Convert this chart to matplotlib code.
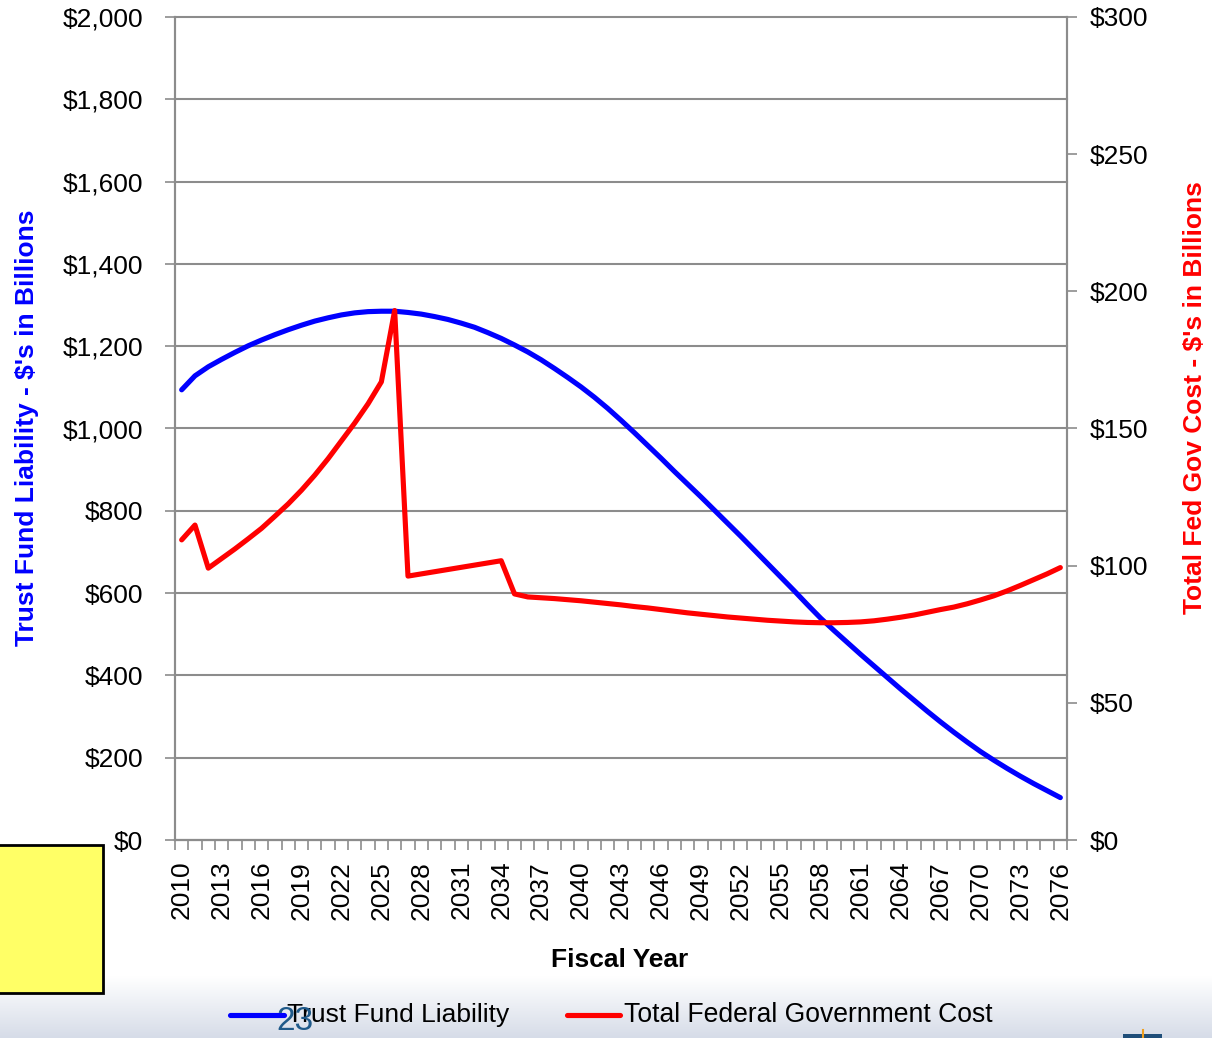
import numpy as np
import matplotlib
matplotlib.use("Agg")
import matplotlib.pyplot as plt
from matplotlib.lines import Line2D
from matplotlib.patches import Rectangle

plt.rcParams['font.family'] = ['Liberation Sans', 'DejaVu Sans']

years = list(range(2010, 2077))

# trust fund liability, $ billions (left axis)
liability = [1094, 1128, 1150, 1168, 1185, 1201, 1215, 1228, 1240, 1251,
             1261, 1269, 1276, 1281, 1284, 1285, 1285, 1282, 1278, 1272,
             1265, 1256, 1246, 1233, 1219, 1203, 1186, 1167, 1146, 1124,
             1101, 1076, 1049, 1020, 990, 959, 928, 896, 865, 834,
             802, 770, 738, 705, 672, 639, 606, 572, 539, 509,
             480, 451, 423, 395, 367, 340, 313, 287, 262, 238,
             215, 194, 174, 155, 137, 120, 103]

# total federal government cost, $ billions (right axis)
fed_cost = [109.4, 114.8, 99.1, 102.6, 106.1, 109.8, 113.6, 118.0, 122.5, 127.5,
            133.0, 139.0, 145.5, 152.0, 159.0, 167.0, 193.0, 96.2, 97.0, 97.8,
            98.6, 99.4, 100.2, 101.0, 101.8, 89.7, 88.6, 88.3, 88.0, 87.6,
            87.2, 86.7, 86.2, 85.7, 85.1, 84.6, 84.0, 83.4, 82.8, 82.3,
            81.8, 81.3, 80.9, 80.5, 80.1, 79.8, 79.5, 79.3, 79.2, 79.2,
            79.3, 79.5, 79.9, 80.5, 81.2, 82.0, 83.0, 84.0, 84.9, 86.1,
            87.5, 89.0, 90.8, 92.8, 94.9, 97.0, 99.3]

left_ticks = list(range(0, 2001, 200))
right_ticks = list(range(0, 301, 50))

W, H = 1212, 1038
fig = plt.figure(figsize=(W / 100, H / 100), dpi=100)
fig.patch.set_facecolor('white')

# bottom gradient band of the slide
band = fig.add_axes([0, 0, 1, 62 / H], zorder=0)
grad = np.linspace(0, 1, 100).reshape(-1, 1)
band.imshow(grad, aspect='auto', cmap=matplotlib.colors.LinearSegmentedColormap.from_list(
    'band', ['#d6dce8', '#ffffff']), origin='lower', extent=[0, 1, 0, 1])
band.axis('off')

grey = '#8c8c8c'
ax = fig.add_axes([175 / W, 1 - 840 / H, (1067 - 175) / W, (840 - 17) / H], zorder=2)
ax.patch.set_alpha(0)
x = np.arange(len(years))
ax.plot(x, liability, color='#0000ff', lw=3.7, solid_capstyle='round', zorder=3)
ax.set_xlim(-0.5, len(years) - 0.5)
ax.set_ylim(0, 2000)
ax.set_yticks(left_ticks)
ax.set_yticklabels(['${:,}'.format(v) for v in left_ticks])
for v in left_ticks:
    ax.axhline(v, color=grey, lw=1.5, zorder=1, clip_on=False)

ax.set_xticks(x[::3])
ax.set_xticklabels([str(y) for y in years[::3]], rotation=90)
ax.set_xticks(np.arange(-0.5, len(years)), minor=True)
ax.tick_params(axis='x', which='major', length=0, pad=15, labelsize=19)
ax.tick_params(axis='x', which='minor', length=7, width=1.2, color=grey, direction='out')
ax.tick_params(axis='y', length=7, width=1.2, color=grey, pad=16, labelsize=19)
ax.spines['top'].set_visible(False)
for s in ['left', 'bottom', 'right']:
    ax.spines[s].set_color(grey)
    ax.spines[s].set_linewidth(1.5)

ax2 = ax.twinx()
ax2.plot(x, fed_cost, color='#ff0000', lw=3.7, solid_capstyle='round', zorder=3)
ax2.set_ylim(0, 300)
ax2.set_yticks(right_ticks)
ax2.set_yticklabels(['${:,}'.format(v) for v in right_ticks])
ax2.tick_params(axis='y', length=7, width=1.2, color=grey, pad=9, labelsize=19)
ax2.spines['top'].set_visible(False)
for s in ['left', 'bottom', 'right']:
    ax2.spines[s].set_color(grey)
    ax2.spines[s].set_linewidth(1.5)

fig.text(620 / W, 1 - 960 / H, 'Fiscal Year', ha='center', va='center',
         fontsize=19, fontweight='bold')
fig.text(27 / W, 1 - 428 / H, "Trust Fund Liability - $'s in Billions", rotation=90,
         ha='center', va='center', fontsize=19, fontweight='bold', color='#0000ff')
fig.text(1195 / W, 1 - 398 / H, "Total Fed Gov Cost - $'s in Billions", rotation=90,
         ha='center', va='center', fontsize=19, fontweight='bold', color='#ff0000')

# legend
ly = 1 - 1015 / H
fig.add_artist(Line2D([230 / W, 284 / W], [ly, ly], color='#0000ff', lw=3.7,
                      solid_capstyle='round', zorder=5))
fig.text(287 / W, ly, 'Trust Fund Liability', ha='left', va='center', fontsize=19, zorder=5)
fig.add_artist(Line2D([567 / W, 620 / W], [ly, ly], color='#ff0000', lw=3.7,
                      solid_capstyle='round', zorder=5))
fig.text(624 / W, ly, 'Total Federal Government Cost', ha='left', va='center',
         fontsize=19.1, zorder=5)

# slide number
fig.text(276 / W, 1 - 1022 / H, '23', ha='left', va='center', fontsize=24,
         color='#1f5a8a', zorder=6)

# yellow note box
fig.add_artist(Rectangle((-2 / W, 1 - 993 / H), 105 / W, 148 / H, transform=fig.transFigure,
                         facecolor='#ffff66', edgecolor='black', lw=2, zorder=4))

# logo fragment bottom right
fig.add_artist(Rectangle((1123 / W, 0), 39 / W, 4 / H, transform=fig.transFigure,
                         facecolor='#1f4e79', edgecolor='none', zorder=4))
fig.add_artist(Line2D([1143 / W, 1143 / W], [0, 8 / H], color='#f0a020', lw=1.5, zorder=5))

fig.savefig('out.png', dpi=100)
